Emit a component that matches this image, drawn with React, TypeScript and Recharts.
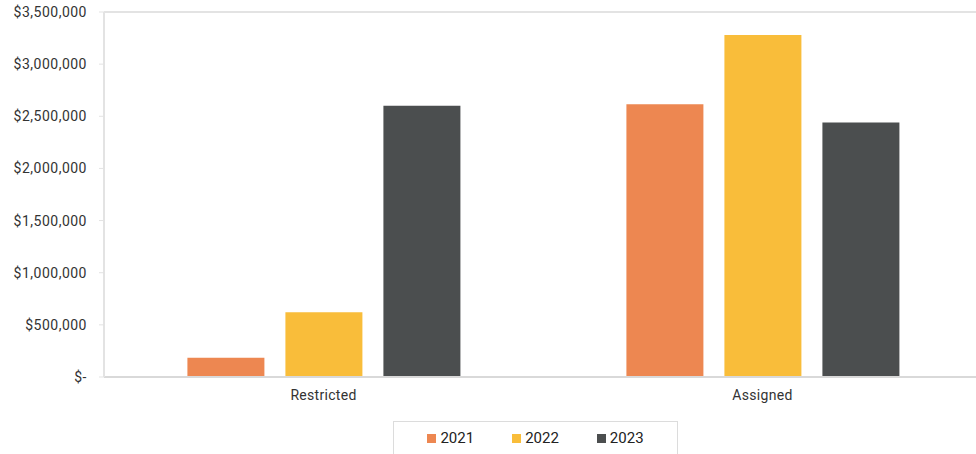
import { BarChart, Bar, XAxis, YAxis, Legend, ReferenceLine } from 'recharts';

const categories = ['Restricted', 'Assigned'];
const values2021 = [185000, 2615000];
const values2022 = [620000, 3280000];
const values2023 = [2600000, 2440000];
const yTicks = [0, 500000, 1000000, 1500000, 2000000, 2500000, 3000000, 3500000];

const series = [
  { key: 'y2021', name: '2021', color: '#ED8751' },
  { key: 'y2022', name: '2022', color: '#F9BD3A' },
  { key: 'y2023', name: '2023', color: '#4B4E4F' },
];

const data = categories.map((name, i) => ({
  name,
  y2021: values2021[i],
  y2022: values2022[i],
  y2023: values2023[i],
}));

const fmt = (v: number) => (v === 0 ? '$-' : '$' + v.toLocaleString('en-US'));

const font = 'Roboto, "Noto Sans", sans-serif';

function LegendBox() {
  return (
    <div style={{ width: 976, height: 47, paddingTop: 14, boxSizing: 'border-box', overflow: 'visible', fontFamily: font }}>
      <div
        style={{
          marginLeft: 393,
          width: 285,
          height: 34,
          border: '1px solid #dcdcdc',
          boxSizing: 'border-box',
          display: 'flex',
          alignItems: 'center',
          justifyContent: 'center',
          gap: 38,
          fontSize: 15,
          color: '#222',
        }}
      >
        {series.map((s) => (
          <span key={s.key} style={{ display: 'flex', alignItems: 'center' }}>
            <span style={{ width: 9, height: 9, background: s.color, marginRight: 4, display: 'inline-block' }} />
            {s.name}
          </span>
        ))}
      </div>
    </div>
  );
}

export default function App() {
  return (
    <div style={{ position: 'absolute', left: 0, top: 0, width: 976, height: 454, background: '#fff', overflow: 'hidden' }}>
      <BarChart
        width={976}
        height={454}
        data={data}
        margin={{ top: 12, right: -6, left: 0, bottom: 0 }}
        barCategoryGap="19%"
        barGap={21}
      >
        <ReferenceLine y={3500000} stroke="#e3e3e3" strokeWidth={2} />
        <XAxis
          dataKey="name"
          height={30}
          axisLine={{ stroke: '#d9d9d9', strokeWidth: 2 }}
          tickLine={false}
          tickMargin={7}
          tick={{ fontSize: 14, fill: '#333', fontFamily: font, letterSpacing: 0.3 }}
        />
        <YAxis
          width={104}
          domain={[0, 3500000]}
          ticks={yTicks}
          interval={0}
          tickFormatter={fmt}
          axisLine={{ stroke: '#e3e3e3', strokeWidth: 2 }}
          tickLine={{ stroke: '#e3e3e3' }}
          tickSize={5}
          tickMargin={12}
          tick={{ fontSize: 14, fill: '#333', fontFamily: font, letterSpacing: 0.5 }}
        />
        <Legend verticalAlign="bottom" wrapperStyle={{ left: 0, width: 976 }} content={() => <LegendBox />} />
        {series.map((s) => (
          <Bar key={s.key} dataKey={s.key} name={s.name} fill={s.color} isAnimationActive={false} />
        ))}
      </BarChart>
    </div>
  );
}
